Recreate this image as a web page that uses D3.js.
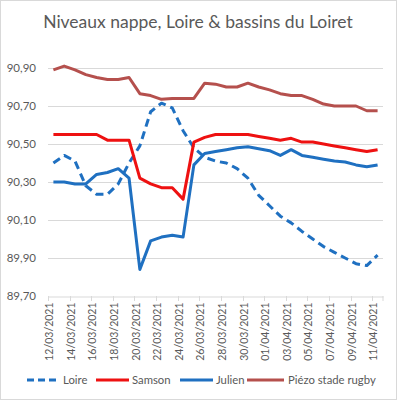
<!DOCTYPE html>
<html>
<head>
<meta charset="utf-8">
<script src="https://cdn.jsdelivr.net/npm/d3@7"></script>
<style>
  body { margin: 0; background: #fff; }
  svg { display: block; font-family: Lato, "Liberation Sans", sans-serif; }
</style>
</head>
<body>
<script>
var dates = ['12/03/2021','13/03/2021','14/03/2021','15/03/2021','16/03/2021','17/03/2021','18/03/2021','19/03/2021',
  '20/03/2021','21/03/2021','22/03/2021','23/03/2021','24/03/2021','25/03/2021','26/03/2021','27/03/2021',
  '28/03/2021','29/03/2021','30/03/2021','31/03/2021','01/04/2021','02/04/2021','03/04/2021','04/04/2021',
  '05/04/2021','06/04/2021','07/04/2021','08/04/2021','09/04/2021','10/04/2021','11/04/2021'];

var loire  = [90.40,90.44,90.41,90.28,90.235,90.235,90.29,90.40,90.49,90.67,90.715,90.69,90.57,90.48,90.43,90.41,
  90.40,90.37,90.32,90.23,90.175,90.12,90.085,90.04,90.00,89.96,89.93,89.90,89.87,89.86,89.915];
var samson = [90.55,90.55,90.55,90.55,90.55,90.52,90.52,90.52,90.32,90.29,90.27,90.27,90.21,90.51,90.535,90.55,
  90.55,90.55,90.55,90.54,90.53,90.52,90.53,90.51,90.51,90.50,90.49,90.48,90.47,90.46,90.47];
var julien = [90.30,90.30,90.29,90.29,90.34,90.35,90.37,90.32,89.84,89.99,90.01,90.02,90.01,90.39,90.45,90.46,
  90.47,90.48,90.485,90.475,90.465,90.44,90.47,90.44,90.43,90.42,90.41,90.405,90.39,90.38,90.39];
var piezo  = [90.89,90.91,90.89,90.865,90.85,90.84,90.84,90.85,90.765,90.755,90.735,90.74,90.74,90.74,90.82,90.815,
  90.80,90.80,90.82,90.80,90.785,90.765,90.755,90.755,90.735,90.71,90.70,90.70,90.70,90.675,90.675];

var yTicks = [89.70, 89.90, 90.10, 90.30, 90.50, 90.70, 90.90];

var series = [
  { name: 'Loire', values: loire, color: '#1f70c1', dash: '8,5' },
  { name: 'Samson', values: samson, color: '#ee1111', dash: null },
  { name: 'Julien', values: julien, color: '#1f70c1', dash: null },
  { name: 'Piézo stade rugby', values: piezo, color: '#b5504d', dash: null }
];

var width = 397, height = 400;
var plotLeft = 48, plotRight = 383, plotTop = 68, plotBottom = 296;

var svg = d3.select('body').append('svg')
  .attr('width', width)
  .attr('height', height);

svg.append('rect')
  .attr('x', 0.5).attr('y', 0.5)
  .attr('width', width - 1).attr('height', height - 1)
  .attr('fill', '#fff').attr('stroke', '#d9d9d9');

svg.append('text')
  .attr('x', 198).attr('y', 28)
  .attr('text-anchor', 'middle')
  .attr('font-size', 17.5)
  .attr('fill', '#595959')
  .text('Niveaux nappe, Loire & bassins du Loiret');

var x = d3.scaleBand().domain(dates).range([plotLeft, plotRight]);
var y = d3.scaleLinear().domain([89.70, 90.90]).range([plotBottom, plotTop]);

// gridlines
svg.append('g').selectAll('line')
  .data(yTicks.slice(1))
  .enter().append('line')
  .attr('x1', plotLeft).attr('x2', plotRight)
  .attr('y1', d => Math.round(y(d)) + 0.5).attr('y2', d => Math.round(y(d)) + 0.5)
  .attr('stroke', '#d9d9d9');

// y axis labels
var fmt = d => d.toFixed(2).replace('.', ',');
var yAxis = svg.append('g')
  .attr('transform', 'translate(' + plotLeft + ',0)')
  .call(d3.axisLeft(y).tickValues(yTicks).tickFormat(fmt).tickSize(0).tickPadding(12));
yAxis.select('.domain').remove();
yAxis.selectAll('text').attr('font-size', 11.5).attr('fill', '#595959').attr('font-family', 'Lato, sans-serif');

// x axis
var xAxis = svg.append('g')
  .attr('transform', 'translate(0,' + (Math.round(plotBottom) + 0.5) + ')')
  .call(d3.axisBottom(x).tickValues(dates.filter((d, i) => i % 2 == 0)).tickSize(0).tickPadding(0));
xAxis.select('.domain').attr('stroke', '#d9d9d9');
xAxis.selectAll('text')
  .attr('font-size', 10.5)
  .attr('fill', '#595959')
  .attr('font-family', 'Lato, sans-serif')
  .attr('text-anchor', 'end')
  .attr('transform', 'translate(-4,6) rotate(-90)')
  .attr('dy', '0.35em')
  .attr('y', 0);

// tick marks between category pairs
svg.append('g').selectAll('line')
  .data(dates.filter((d, i) => i % 2 == 0).concat(['end']))
  .enter().append('line')
  .attr('x1', d => d == 'end' ? plotRight : Math.round(x(d)) + 0.5)
  .attr('x2', d => d == 'end' ? plotRight : Math.round(x(d)) + 0.5)
  .attr('y1', plotBottom).attr('y2', plotBottom + 5)
  .attr('stroke', '#d9d9d9');

var line = d3.line()
  .x((d, i) => x(dates[i]) + x.bandwidth() / 2)
  .y(d => y(d));

svg.append('g').selectAll('path')
  .data(series)
  .enter().append('path')
  .attr('d', d => line(d.values))
  .attr('fill', 'none')
  .attr('stroke', d => d.color)
  .attr('stroke-width', 3)
  .attr('stroke-linejoin', 'round')
  .attr('stroke-dasharray', d => d.dash);

// legend
var legendX = [27, 96, 180, 247];
var legend = svg.append('g').selectAll('g')
  .data(series)
  .enter().append('g')
  .attr('transform', (d, i) => 'translate(' + legendX[i] + ',380)');
legend.append('line')
  .attr('x1', 0).attr('x2', (d, i) => i == 3 ? 37 : 33)
  .attr('stroke', d => d.color)
  .attr('stroke-width', 3)
  .attr('stroke-dasharray', d => d.dash ? '7,4' : null);
legend.append('text')
  .attr('x', (d, i) => i == 3 ? 41 : 36)
  .attr('dy', '0.35em')
  .attr('font-size', 11.3)
  .attr('fill', '#595959')
  .text(d => d.name);
</script>
</body>
</html>
